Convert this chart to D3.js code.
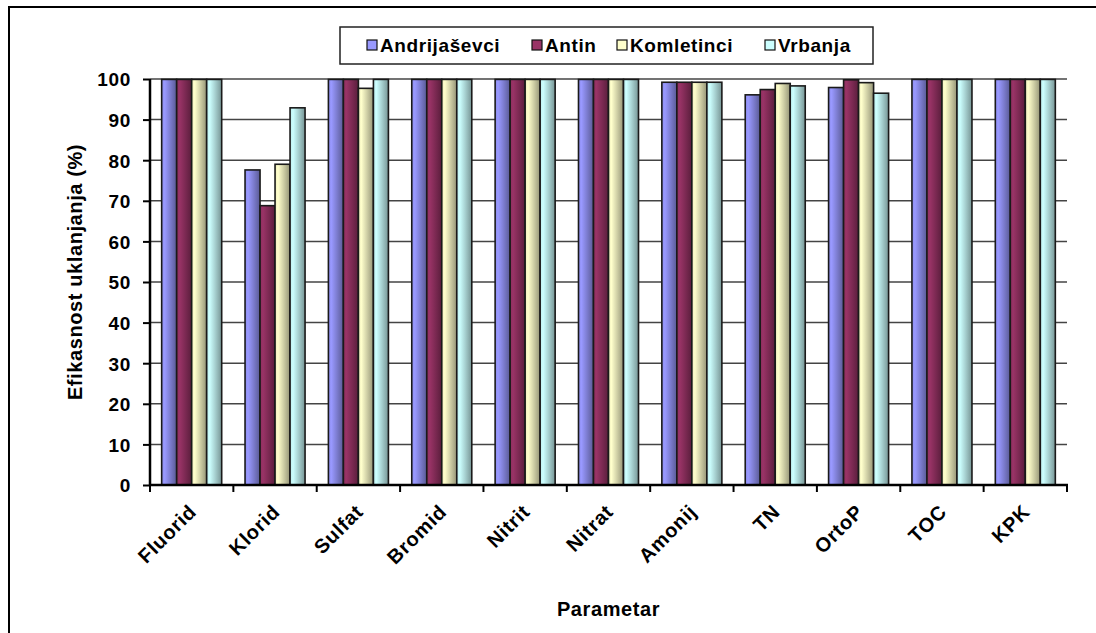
<!DOCTYPE html>
<meta charset="utf-8">
<style>
body { margin: 0; background: #fff; }
text { font-family: "Liberation Sans", Arial, sans-serif; font-weight: bold; fill: #000; }
.tick text { font-size: 19px; letter-spacing: 0.7px; }
.xlab { font-size: 20px; letter-spacing: 0.7px; }
.legend text { font-size: 19px; letter-spacing: 0.6px; }
.title { font-size: 20px; letter-spacing: 0.6px; }
</style>
<svg width="1096" height="633">
  <defs id="defs"></defs>
</svg>
<script src="https://d3js.org/d3.v7.min.js"></script>
<script>

var categories = ["Fluorid", "Klorid", "Sulfat", "Bromid", "Nitrit", "Nitrat", "Amonij", "TN", "OrtoP", "TOC", "KPK"];
var seriesNames = ["Andrijaševci", "Antin", "Komletinci", "Vrbanja"];
var colors = ["#9999ff", "#993366", "#ffffcc", "#ccffff"];

// efikasnost uklanjanja (%) po parametru
var andrijasevci = [99.9, 77.6, 99.9, 99.9, 99.9, 99.9, 99.2, 96.1, 97.9, 99.9, 99.9];
var antin        = [99.9, 68.8, 99.9, 99.9, 99.9, 99.9, 99.2, 97.4, 99.8, 99.9, 99.9];
var komletinci   = [99.9, 79.0, 97.7, 99.9, 99.9, 99.9, 99.2, 98.9, 99.1, 99.9, 99.9];
var vrbanja      = [99.9, 92.9, 99.9, 99.9, 99.9, 99.9, 99.2, 98.3, 96.5, 99.9, 99.9];
var yTicks = [0, 10, 20, 30, 40, 50, 60, 70, 80, 90, 100];

var series = [andrijasevci, antin, komletinci, vrbanja];

var svg = d3.select("svg");
var pLeft = 150, pRight = 1067, pTop = 79, pBottom = 485;

// outer frame
svg.append("rect")
    .attr("x", 9).attr("y", 7)
    .attr("width", 1200).attr("height", 800)
    .attr("fill", "none").attr("stroke", "#000").attr("stroke-width", 2);

// gradients, light left -> dark right
var defs = d3.select("#defs");
colors.forEach(function(c, i) {
  var g = defs.append("linearGradient").attr("id", "bargrad" + i)
      .attr("x1", "0%").attr("x2", "100%").attr("y1", "0%").attr("y2", "0%");
  var stops = [[0, 0.2], [0.2, 0], [0.55, 0.55], [1, 1.5]];
  stops.forEach(function(s) {
    g.append("stop").attr("offset", s[0])
        .style("stop-color", d3.color(c).darker(s[1]).formatHex())
        .style("stop-opacity", 1);
  });
});

var x0 = d3.scaleBand().domain(categories).range([pLeft, pRight])
    .paddingInner(0.28).paddingOuter(0.14);
var x1 = d3.scaleBand().domain(d3.range(series.length)).range([0, x0.bandwidth()]);
var y = d3.scaleLinear().domain([0, 100]).range([pBottom, pTop]);

// gridlines
svg.append("g").selectAll("line").data(yTicks.slice(1)).join("line")
    .attr("x1", pLeft).attr("x2", pRight)
    .attr("y1", d => y(d)).attr("y2", d => y(d))
    .attr("stroke", "#444").attr("stroke-width", 1.5);

// bars
var groups = svg.append("g").selectAll("g").data(categories).join("g")
    .attr("transform", d => "translate(" + x0(d) + ",0)");

groups.selectAll("rect")
  .data((d, i) => series.map((s, k) => ({k: k, v: s[i]})))
  .join("rect")
    .attr("x", d => x1(d.k))
    .attr("y", d => y(d.v))
    .attr("width", x1.bandwidth())
    .attr("height", d => y(0) - y(d.v))
    .style("fill", d => "url(#bargrad" + d.k + ")")
    .attr("stroke", "#1a1a1a").attr("stroke-width", 1.6);

// y axis
var yAxis = svg.append("g")
    .attr("transform", "translate(" + pLeft + ",0)")
    .call(d3.axisLeft(y).tickValues(yTicks).tickSize(7).tickPadding(12));
yAxis.attr("font-family", null).attr("font-size", null);
yAxis.select(".domain").attr("stroke-width", 2.5).attr("d", "M0," + (pBottom + 1) + "V" + pTop);
yAxis.selectAll(".tick line").attr("stroke-width", 2);
yAxis.selectAll(".tick text").attr("dy", "0.36em");

// x axis
var xAxis = svg.append("g")
    .attr("transform", "translate(0," + pBottom + ")");
xAxis.append("line").attr("x1", pLeft - 1).attr("x2", pRight + 1)
    .attr("stroke", "#000").attr("stroke-width", 2.5);
var bounds = d3.range(categories.length + 1).map(i => pLeft + i * x0.step());
xAxis.selectAll(".tk").data(bounds).join("line")
    .attr("x1", d => d).attr("x2", d => d).attr("y1", 0).attr("y2", 7)
    .attr("stroke", "#000").attr("stroke-width", 2);
xAxis.selectAll(".xl").data(categories).join("text")
    .attr("class", "xlab")
    .attr("text-anchor", "end")
    .attr("transform", d => "translate(" + (x0(d) + x0.bandwidth() / 2 + 6) + ",28) rotate(-45)")
    .text(d => d);

// titles
svg.append("text").attr("class", "title")
    .attr("text-anchor", "middle")
    .attr("transform", "translate(82,272) rotate(-90)")
    .text("Efikasnost uklanjanja (%)");
svg.append("text").attr("class", "title")
    .attr("text-anchor", "middle")
    .attr("x", (pLeft + pRight) / 2).attr("y", 616)
    .text("Parametar");

// legend
var legend = svg.append("g").attr("class", "legend");
legend.append("rect")
    .attr("x", 340).attr("y", 27).attr("width", 533).attr("height", 37)
    .attr("fill", "#fff").attr("stroke", "#222").attr("stroke-width", 1.5);
var legX = [367, 532, 617, 765];
var items = legend.selectAll("g").data(seriesNames).join("g")
    .attr("transform", (d, i) => "translate(" + legX[i] + ",40)");
items.append("rect").attr("width", 10).attr("height", 10)
    .attr("fill", (d, i) => colors[i]).attr("stroke", "#111").attr("stroke-width", 1.2);
items.append("text").attr("x", 13).attr("y", 12).text(d => d);

</script>
